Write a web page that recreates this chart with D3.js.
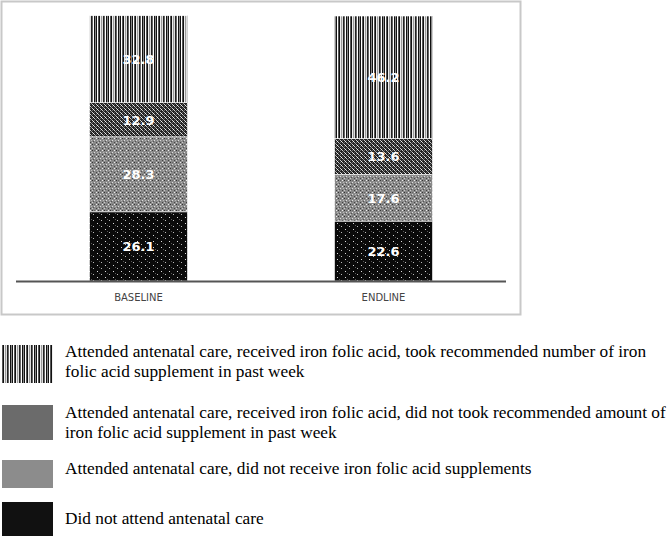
<!DOCTYPE html>
<html>
<head>
<meta charset="utf-8">
<script src="https://cdn.jsdelivr.net/npm/d3@7"></script>
<style>
  body { margin: 0; background: #fff; }
  .cat-label { font-family: "DejaVu Sans", sans-serif; font-size: 10px; fill: #444; }
  .value-label { font-family: "DejaVu Sans", sans-serif; font-size: 13px; font-weight: bold; fill: #fff; }
  .legend-text { font-family: "Liberation Serif", "Times New Roman", serif; font-size: 17.3px; fill: #000; }
</style>
</head>
<body>
<script>
// Chart data
const categories = ["BASELINE", "ENDLINE"];
const seriesKeys = ["none", "noIfa", "ifaLow", "ifaFull"];
const noAncValues = [26.1, 22.6];
const noIfaValues = [28.3, 17.6];
const ifaLowValues = [12.9, 13.6];
const ifaFullValues = [32.8, 46.2];
const legendLines = [
    ["Attended antenatal care, received iron folic acid, took recommended number of iron",
     "folic acid supplement in past week"],
    ["Attended antenatal care, received iron folic acid, did not took recommended amount of",
     "iron folic acid supplement in past week"],
    ["Attended antenatal care, did not receive iron folic acid supplements"],
    ["Did not attend antenatal care"]
];

const width = 669;
const height = 536;

const data = categories.map((c, i) => ({
    cat: c,
    none: noAncValues[i],
    noIfa: noIfaValues[i],
    ifaLow: ifaLowValues[i],
    ifaFull: ifaFullValues[i]
}));

const svg = d3.select("body")
    .append("svg")
    .attr("width", width)
    .attr("height", height);

// Patterns used to fill the bar segments
const defs = svg.append("defs");

// vertical stripes
const stripes = defs.append("pattern")
    .attr("id", "pat-stripes")
    .attr("patternUnits", "userSpaceOnUse")
    .attr("width", 12).attr("height", 4);
stripes.append("rect").attr("width", 12).attr("height", 4).attr("fill", "#ddd");
[[0, "#111"], [1, "#fff"], [2, "#555"], [3, "#111"], [4, "#eee"], [5, "#999"], [7, "#222"], [8, "#666"], [9, "#fff"], [10, "#111"], [11, "#888"]]
    .forEach(([x, c]) => stripes.append("rect").attr("x", x).attr("width", 1).attr("height", 4).attr("fill", c));

// dark checker
const checker = defs.append("pattern")
    .attr("id", "pat-checker")
    .attr("patternUnits", "userSpaceOnUse")
    .attr("width", 4).attr("height", 4);
checker.append("rect").attr("width", 4).attr("height", 4).attr("fill", "#222");
[[0, 0, "#ccc"], [2, 2, "#ccc"], [2, 0, "#555"], [0, 2, "#666"], [1, 1, "#eee"], [3, 3, "#999"]]
    .forEach(([x, y, c]) => checker.append("rect").attr("x", x).attr("y", y).attr("width", 1).attr("height", 1).attr("fill", c));

// gray grid
const grid = defs.append("pattern")
    .attr("id", "pat-grid")
    .attr("patternUnits", "userSpaceOnUse")
    .attr("width", 6).attr("height", 6);
grid.append("rect").attr("width", 6).attr("height", 6).attr("fill", "#8a8a8a");
[[0, 0, "#eee"], [2, 0, "#333"], [4, 2, "#ddd"], [0, 4, "#444"], [2, 4, "#ccc"], [4, 0, "#666"], [1, 2, "#bbb"], [3, 3, "#555"]]
    .forEach(([x, y, c]) => grid.append("rect").attr("x", x).attr("y", y).attr("width", 1).attr("height", 1).attr("fill", c));

// black with white dots
const dots = defs.append("pattern")
    .attr("id", "pat-dots")
    .attr("patternUnits", "userSpaceOnUse")
    .attr("width", 8).attr("height", 6);
dots.append("rect").attr("width", 8).attr("height", 6).attr("fill", "#0a0a0a");
[[1, 1, "#ddd"], [5, 4, "#bbb"], [3, 3, "#555"]]
    .forEach(([x, y, c]) => dots.append("rect").attr("x", x).attr("y", y).attr("width", 1).attr("height", 1).attr("fill", c));

const fills = {
    none: "url(#pat-dots)",
    noIfa: "url(#pat-grid)",
    ifaLow: "url(#pat-checker)",
    ifaFull: "url(#pat-stripes)"
};

// Chart frame
svg.append("rect")
    .attr("x", 1.5).attr("y", 1.5)
    .attr("width", 519).attr("height", 313)
    .attr("fill", "none")
    .attr("stroke", "#c8c8c8")
    .attr("stroke-width", 2);

// Scales
const xScale = d3.scaleBand()
    .domain(categories)
    .range([16, 506])
    .paddingInner(0.6)
    .paddingOuter(0.3);

const yScale = d3.scaleLinear()
    .domain([0, 100])
    .range([281, 16]);

// Stack the series
const stacked = d3.stack().keys(seriesKeys)(data);

const layers = svg.append("g")
    .selectAll("g")
    .data(stacked)
    .join("g")
    .attr("fill", d => fills[d.key]);

layers.selectAll("rect")
    .data(d => d)
    .join("rect")
    .attr("x", d => xScale(d.data.cat))
    .attr("y", d => yScale(d[1]))
    .attr("width", xScale.bandwidth())
    .attr("height", d => yScale(d[0]) - yScale(d[1]))
    .attr("stroke", "#fff")
    .attr("stroke-width", 0.6);

// Value labels
layers.selectAll("text")
    .data(d => d.map(p => ({ p: p, key: d.key })))
    .join("text")
    .attr("class", "value-label")
    .attr("x", d => xScale(d.p.data.cat) + xScale.bandwidth() / 2)
    .attr("y", d => yScale((d.p[0] + d.p[1]) / 2) + 5)
    .attr("text-anchor", "middle")
    .text(d => d.p.data[d.key].toFixed(1));

// X axis line
svg.append("line")
    .attr("x1", 16).attr("x2", 506)
    .attr("y1", 281.5).attr("y2", 281.5)
    .attr("stroke", "#555")
    .attr("stroke-width", 2);

// Category labels
svg.selectAll(".cat-label")
    .data(categories)
    .join("text")
    .attr("class", "cat-label")
    .attr("x", d => xScale(d) + xScale.bandwidth() / 2)
    .attr("y", 301)
    .attr("text-anchor", "middle")
    .text(d => d);

// Legend
const legendSwatches = [
    { y: 345, h: 38, fill: "url(#pat-stripes)" },
    { y: 405, h: 35, fill: "#6b6b6b" },
    { y: 460, h: 28, fill: "#8c8c8c" },
    { y: 502, h: 34, fill: "#111" }
];
const legendBaselines = [357, 418, 474, 524];

const legend = svg.append("g");

legend.selectAll("rect")
    .data(legendSwatches)
    .join("rect")
    .attr("x", 2)
    .attr("y", d => d.y)
    .attr("width", 51)
    .attr("height", d => d.h)
    .attr("fill", d => d.fill);

legend.selectAll("text")
    .data(legendLines)
    .join("text")
    .attr("class", "legend-text")
    .attr("x", 65)
    .attr("y", (d, i) => legendBaselines[i])
    .selectAll("tspan")
    .data(d => d)
    .join("tspan")
    .attr("x", 65)
    .attr("dy", (d, i) => i === 0 ? 0 : 20)
    .text(d => d);
</script>
</body>
</html>
